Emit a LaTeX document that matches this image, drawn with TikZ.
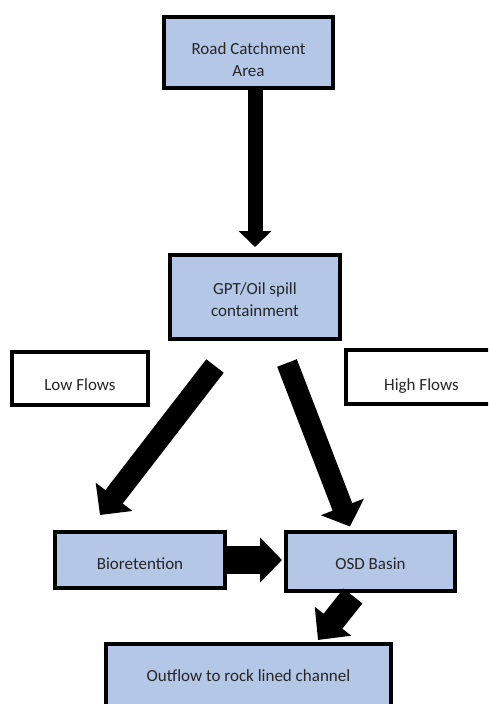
\documentclass[tikz,border=0pt]{standalone}
\usepackage{fontspec}
\setmainfont{Carlito}
\usetikzlibrary{arrows.meta,calc}
\definecolor{boxblue}{HTML}{B4C7E7}
\definecolor{txt}{HTML}{262626}
\newcommand{\btext}[2]{\raisebox{#1}[0pt][0pt]{\begin{tabular}{@{}c@{}}#2\end{tabular}}}
\tikzset{
  bluebox/.style={draw=black, line width=4pt, fill=boxblue, rectangle, inner sep=0pt, text=txt},
  whitebox/.style={draw=black, line width=4pt, fill=white, rectangle, inner sep=0pt, text=txt},
  bigarrow/.style={draw=black, line width=#1},
}
\begin{document}
\begin{tikzpicture}[x=1pt, y=-1pt, font=\fontsize{17}{22}\selectfont]
\useasboundingbox (0,0) rectangle (488,704);
\clip (0,0) rectangle (488,704);
\fill[white] (0,0) rectangle (488,704);

\node[bluebox, minimum width=169pt, minimum height=71pt] (road) at (248.5,52.5) {\btext{-12.5pt}{Road Catchment\\Area}};
\node[bluebox, minimum width=170pt, minimum height=84pt] (gpt) at (255,297) {\btext{-8pt}{GPT/Oil spill\\containment}};
\node[whitebox, minimum width=136pt, minimum height=53pt] (low) at (80,378.5) {\btext{-11.5pt}{Low Flows}};
\node[whitebox, minimum width=151pt, minimum height=54pt] (high) at (421.5,377) {\btext{-13pt}{High Flows}};
\node[bluebox, minimum width=170pt, minimum height=56pt] (bio) at (140,560) {\btext{-9pt}{Bioretention}};
\node[bluebox, minimum width=169pt, minimum height=59pt] (osd) at (370.5,561.5) {\btext{-7.5pt}{OSD Basin}};
\node[bluebox, minimum width=285pt, minimum height=66pt] (out) at (248.5,677) {\btext{-4pt}{Outflow to rock lined channel}};

% Road -> GPT
\draw[bigarrow=15pt, -{Triangle[width=32pt,length=16pt]}, shorten >=6pt]
  (road.south -| gpt.north) -- (gpt.north);
% GPT -> Bioretention (low flows)
\draw[bigarrow=22pt, -{Triangle[width=45pt,length=23pt]}]
  ($(gpt.south)+(-40,25)$) -- ($(bio.north)+(-40,-15)$);
% GPT -> OSD (high flows)
\draw[bigarrow=21pt, -{Triangle[width=45pt,length=21pt]}]
  ($(gpt.south)+(32,22)$) -- ($(osd.north)+(-20.5,-3.5)$);
% Bioretention -> OSD
\draw[bigarrow=28pt, -{Triangle[width=44pt,length=22pt]}, shorten >=2pt]
  (bio.east) -- (osd.west |- bio.east);
% OSD -> Outflow
\draw[bigarrow=24pt, -{Triangle[width=45pt,length=24pt]}]
  ($(osd.south)+(-17.5,3)$) -- ($(out.north)+(69.5,-2)$);
\end{tikzpicture}
\end{document}
